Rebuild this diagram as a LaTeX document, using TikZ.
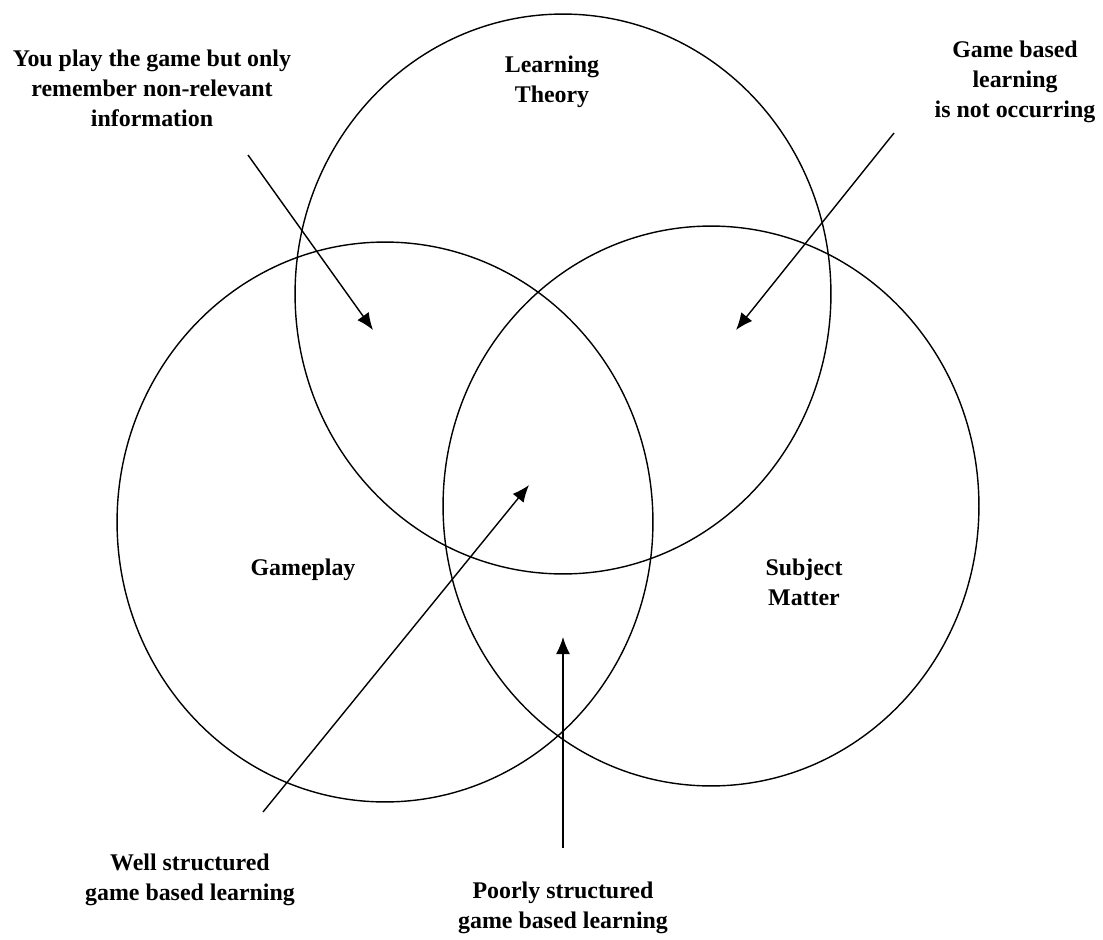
\documentclass[tikz,border=0pt]{standalone}
\usepackage{fontspec}
\setmainfont{Liberation Serif}
\usepackage{tikz}
\usetikzlibrary{arrows.meta,shapes}
\tikzstyle{ring}=[draw,ellipse,line width=0.8pt,minimum width=10.72cm,minimum height=11.2cm,inner sep=0pt]
\tikzstyle{note}=[align=center,font=\fontsize{13.6}{17}\selectfont\bfseries]
\tikzstyle{pointer} = [draw,line width=0.8pt,-{Latex[length=3.4mm,width=2.8mm]}]

\begin{document}
\begin{tikzpicture}[x=0.02cm,y=-0.02cm]
        \useasboundingbox (0,0) rectangle (1103,940);
        % the three sets
        \node[ring] (theory) at (563,294) {};
        \node[ring] (play) at (385,522) {};
        \node[ring] (matter) at (711,506) {};

        \node[note] (theorytxt) at (552,82) {Learning\\Theory};
        \node[note] (playtxt) at (303,570) {Gameplay};
        \node[note] (mattertxt) at (804,582) {Subject\\Matter};

        % notes round the outside
        \node[note] (recall) at (152,88) {You play the game but only\\remember non-relevant\\information};
        \node[note] (absent) at (1015,82) {Game based\\learning\\is not occurring};
        \node[note] (well) at (190,880) {Well structured\\game based learning};
        \node[note] (poor) at (563,908) {Poorly structured\\game based learning};

        \coordinate (recallfrom) at (248,155);
        \coordinate (recallto) at (373,330);
        \coordinate (absentfrom) at (894,133);
        \coordinate (absentto) at (736,330);
        \coordinate (wellfrom) at (263,812);
        \coordinate (wellto) at (529,485);
        \coordinate (poorfrom) at (563,848);
        \coordinate (poorto) at (563,637);

        \draw[pointer] (recallfrom) -- (recallto);
        \draw[pointer] (absentfrom) -- (absentto);
        \draw[pointer] (wellfrom) -- (wellto);
        \draw[pointer] (poorfrom) -- (poorto);
\end{tikzpicture}
\end{document}
